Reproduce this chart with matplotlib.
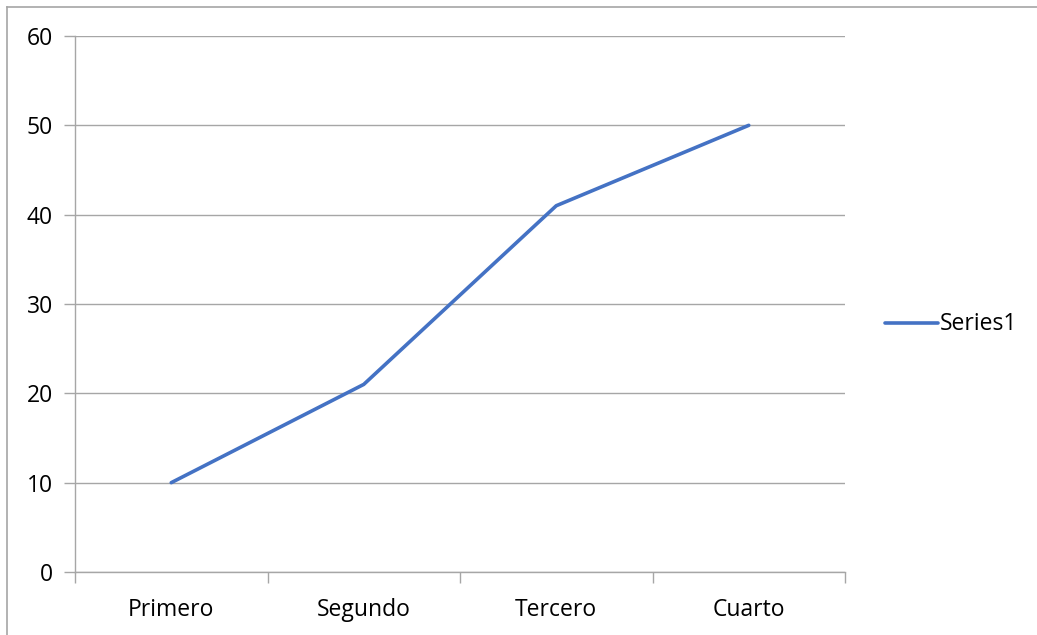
import matplotlib
matplotlib.use("Agg")
import matplotlib.pyplot as plt
from matplotlib.lines import Line2D

categories = ["Primero", "Segundo", "Tercero", "Cuarto"]
series1 = [10, 21, 41, 50]
series_name = "Series1"
yticks = [0, 10, 20, 30, 40, 50, 60]

plt.rcParams['font.family'] = ['Open Sans', 'DejaVu Sans']

W, H = 1037, 635
fs = 16.5
fig = plt.figure(figsize=(W / 100, H / 100), dpi=100)
ax = fig.add_axes([75 / W, 1 - 572 / H, (845 - 75) / W, (572 - 36) / H])

xpos = [i + 0.5 for i in range(len(categories))]
line_color = "#4472C4"
ax.plot(xpos, series1, color=line_color, linewidth=2.6, solid_capstyle="round",
        solid_joinstyle="round", zorder=3)

grid_c = "#A6A6A6"
ax.set_xlim(0, len(categories))
ax.set_ylim(0, 60)
ax.set_yticks(yticks)
ax.set_yticklabels([str(v) for v in yticks])
ax.yaxis.grid(True, color=grid_c, linewidth=1)
ax.set_axisbelow(True)
ax.set_xticks(range(len(categories) + 1))
ax.set_xticklabels([])
ax.set_xticks(xpos, minor=True)
ax.set_xticklabels(categories, minor=True)
ax.tick_params(axis="x", which="minor", length=0, pad=19, labelsize=fs, colors="black")
ax.tick_params(axis="x", which="major", length=8, width=1, color=grid_c, direction="out")
ax.tick_params(axis="y", length=8, width=1, color=grid_c, direction="out", pad=8, labelsize=fs)

for s in ["top", "right"]:
    ax.spines[s].set_visible(False)
for s in ["left", "bottom"]:
    ax.spines[s].set_color(grid_c)
    ax.spines[s].set_linewidth(1)

# legend
fig.add_artist(Line2D([885 / W, 938 / W], [1 - 323 / H, 1 - 323 / H], color=line_color,
                      linewidth=2.6, solid_capstyle="round"))
fig.text(940 / W, 1 - 324 / H, series_name, fontsize=fs, va="center", ha="left")

# chart border (top and left visible)
fig.add_artist(Line2D([6.5 / W, 6.5 / W], [0, 1 - 6.5 / H], color=grid_c, linewidth=1.2))
fig.add_artist(Line2D([6.5 / W, 1], [1 - 6.5 / H, 1 - 6.5 / H], color=grid_c, linewidth=1.2))

fig.savefig("out.png", dpi=100, facecolor="white")
